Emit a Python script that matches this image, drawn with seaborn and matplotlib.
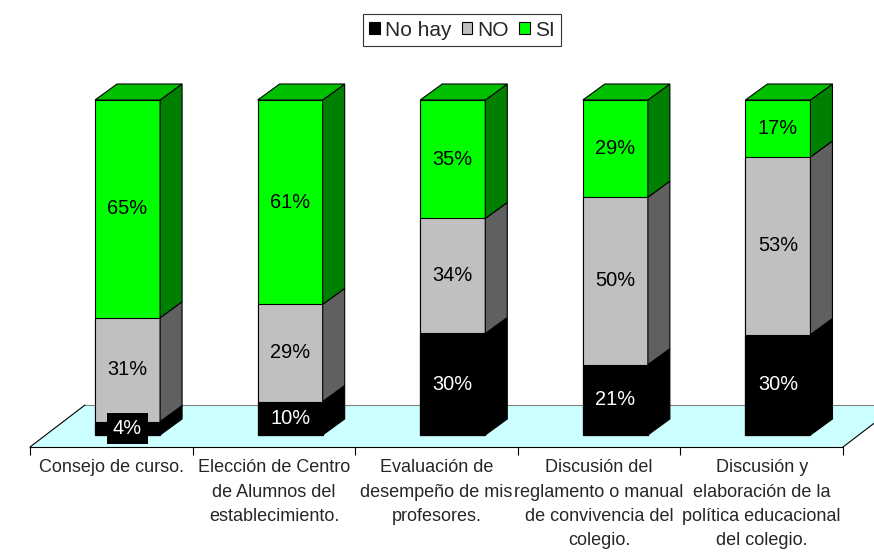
import numpy as np
import pandas as pd
import matplotlib
matplotlib.use("Agg")
import matplotlib.pyplot as plt
import seaborn as sns
from matplotlib.patches import Polygon, Patch
from matplotlib.lines import Line2D

# ---- data ----
categories = [
    "Consejo de curso.",
    "Elección de Centro\nde Alumnos del\nestablecimiento.",
    "Evaluación de\ndesempeño de mis\nprofesores.",
    "Discusión del\nreglamento o manual\nde convivencia del\ncolegio.",
    "Discusión y\nelaboración de la\npolítica educacional\ndel colegio.",
]
series_names = ["No hay", "NO", "SI"]
no_hay = [4, 10, 30, 21, 30]
no = [31, 29, 34, 50, 53]
si = [65, 61, 35, 29, 17]

# ---- styles ----
front_colors = ["#000000", "#C0C0C0", "#00FF00"]
side_colors = ["#000000", "#606060", "#008000"]
top_color = "#00C000"
label_colors = ["white", "black", "black"]

sns.set_style("white")
plt.rcParams["font.family"] = ["Liberation Sans", "DejaVu Sans"]

W, H = 874, 553
fig = plt.figure(figsize=(W / 100, H / 100), dpi=100)
ax = fig.add_axes([30 / W, (H - 447) / H, (843 - 30) / W, (447 - 60) / H])

vals = np.array([no_hay, no, si], dtype=float)
pct = vals / vals.sum(axis=0) * 100
cum = np.cumsum(pct, axis=0)

df = pd.DataFrame({"cat": categories})
for k in range(3):
    df[f"cum{k}"] = cum[k]

# stacked bars by overlaying cumulative totals (top series first)
for k in [2, 1, 0]:
    sns.barplot(data=df, x="cat", y=f"cum{k}", order=categories, color=front_colors[k],
                saturation=1, width=0.4, edgecolor="black", linewidth=0.8, ax=ax,
                zorder=3, errorbar=None)

ybot = -3.582
ytop = ybot + (447 - 60) / 3.35
ax.set_xlim(-0.6, 4.4)
ax.set_ylim(ybot, ytop)

# depth offsets in data units
dx = 22 / 162.6
dy = 16 / 3.35
fdx = 55 / 162.6
fdy = 42 / 3.35

# floor
floor = Polygon([(-0.6, ybot), (4.4, ybot), (4.4 + fdx, ybot + fdy), (-0.6 + fdx, ybot + fdy)],
                closed=True, facecolor="#CCFFFF", edgecolor="none", zorder=1, clip_on=False)
ax.add_patch(floor)
ax.add_line(Line2D([-0.6 + fdx, 4.4 + fdx], [ybot + fdy, ybot + fdy], color="#808080",
                   lw=0.8, zorder=1.5, clip_on=False))
ax.add_line(Line2D([-0.6, -0.6 + fdx], [ybot, ybot + fdy], color="black", lw=0.8,
                   zorder=1.5, clip_on=False))
ax.add_line(Line2D([4.4, 4.4 + fdx], [ybot, ybot + fdy], color="black", lw=0.8,
                   zorder=1.5, clip_on=False))

# 3D sides / top
bars = ax.patches[:len(categories)]
for i, p in enumerate(bars):
    x0 = p.get_x()
    x1 = x0 + p.get_width()
    xc = x0 + p.get_width() / 2
    for k in range(3):
        y0 = 0 if k == 0 else cum[k - 1, i]
        y1 = cum[k, i]
        side = Polygon([(x1, y0), (x1 + dx, y0 + dy), (x1 + dx, y1 + dy), (x1, y1)],
                       closed=True, facecolor=side_colors[k], edgecolor="black",
                       linewidth=0.8, zorder=3, clip_on=False)
        ax.add_patch(side)
        kw = {}
        if k == 0:
            kw["bbox"] = dict(boxstyle="square,pad=0.3", facecolor="black", edgecolor="none")
        ax.text(xc, (y0 + y1) / 2, f"{vals[k, i]:.0f}%", ha="center", va="center",
                fontsize=14.4, color=label_colors[k], zorder=5, **kw)
    yt = cum[2, i]
    top = Polygon([(x0, yt), (x0 + dx, yt + dy), (x1 + dx, yt + dy), (x1, yt)],
                  closed=True, facecolor=top_color, edgecolor="black",
                  linewidth=0.8, zorder=3, clip_on=False)
    ax.add_patch(top)

# axes styling
for s in ["left", "top", "right"]:
    ax.spines[s].set_visible(False)
ax.spines["bottom"].set_color("black")
ax.spines["bottom"].set_linewidth(0.8)
ax.spines["bottom"].set_zorder(2)
ax.set_yticks([])
ax.set_xticks(np.arange(-0.6, 4.41, 1.0))
ax.set_xticklabels([])
ax.set_xticks(np.arange(len(categories)) - 0.1, minor=True)
ax.set_xticklabels(categories, minor=True, fontsize=13, linespacing=1.55)
ax.tick_params(axis="x", which="major", bottom=True, length=6, width=0.8,
               color="black", direction="out")
ax.tick_params(axis="x", which="minor", bottom=True, length=0, pad=9)
ax.set_xlabel("")
ax.set_ylabel("")
ax.patch.set_alpha(0)

# legend
handles = [Patch(facecolor=c, edgecolor="black", linewidth=0.8, label=n)
           for c, n in zip(front_colors, series_names)]
leg = fig.legend(handles=handles, loc="center", bbox_to_anchor=(462 / W, 1 - 30 / H),
                 ncol=3, frameon=True, fancybox=False, edgecolor="black", fontsize=15,
                 handlelength=0.5, handleheight=0.5, handletextpad=0.25,
                 columnspacing=0.5, borderpad=0.3)
leg.get_frame().set_linewidth(0.8)

fig.savefig("out.png", dpi=100)
